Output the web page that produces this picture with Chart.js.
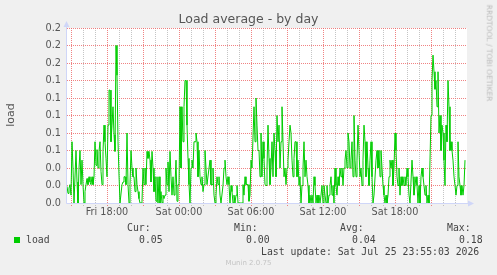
<!DOCTYPE html>
<html lang="en">
<head>
<meta charset="UTF-8" />
<title>Load average - by day</title>
<script src="https://cdn.jsdelivr.net/npm/chart.js"></script>
<style>
  body { margin: 0; background: #f0f0f0; }
  #wrap { position: relative; width: 497px; height: 275px; overflow: hidden; font-family: 'DejaVu Sans', sans-serif; color: #555; }
  #wrap div { position: absolute; white-space: pre; line-height: 1; }
  canvas { position: absolute; left: 0; top: 0; }
  .mono { font-family: 'DejaVu Sans Mono', monospace; font-size: 9.8px; color: #444; }
</style>
</head>
<body>
<div id="wrap">
  <canvas id="chart" width="497" height="275"></canvas>
  <div style="left:0;top:13.4px;width:497px;text-align:center;font-size:12.5px">Load average - by day</div>
  <div style="left:10px;top:115px;font-size:11px;transform:translate(-50%,-50%) rotate(-90deg)">load</div>
  <div style="left:489px;top:53px;font-size:7.5px;color:#bbb;transform:translate(-50%,-50%) rotate(90deg)">RRDTOOL / TOBI OETIKER</div>
  <div style="left:0;top:260.4px;width:497px;text-align:center;font-size:7px;color:#c4c4c4">Munin 2.0.75</div>
  <div style="left:14px;top:237px;width:6px;height:6px;background:#00cc00"></div>
</div>

<script>
  // time axis: hours counted from Fri 00:00, one sample every 5 minutes
  const startHour = 14 + 40 / 60;   // Fri 14:40
  const endHour = 48;               // Sat 24:00
  const stepHours = 5 / 60;

  const xTickHours = [18, 24, 30, 36, 42];
  const xTickLabels = ['Fri 18:00', 'Sat 00:00', 'Sat 06:00', 'Sat 12:00', 'Sat 18:00'];

  const loadValues = [
    0.019,0.011,0.017,0.021,0.009,0.070,0.040,0,0,0.060,
    0.024,0,0.040,0.060,0.021,0.049,0.021,0,0.013,0.021,
    0.028,0.021,0.030,0.024,0.021,0.030,0.021,0.030,0.070,0.043,
    0.061,0.040,0.059,0.070,0.036,0.021,0.059,0.089,0.070,0.051,
    0.030,0.089,0.129,0.129,0.070,0.089,0.110,0.078,0.059,0.180,
    0.146,0.070,0.032,0,0,
    0.021,0.024,0.030,0.030,0.021,0.080,0.021,0,0.021,0.060,
    0.040,0.030,0.030,0.013,0.040,0.021,0.013,0.005,0,0,
    0.002,0.040,0.021,0.040,0.021,0.059,0.051,0.059,0.049,0.024,
    0.059,0.040,0.013,0.030,0.002,0.030,0,0.030,0,0.013,
    0,0.009,0.005,0.009,0.040,0.021,0.047,0.013,0.059,0.030,
    0.009,0.030,0.009,0.021,0.049,0.002,0.021,0.021,
    0.110,0.040,0.110,0.070,0.110,0.140,0.140,0.089,0.051,0.021,
    0,0.040,0.049,0.040,0.070,0.070,0.080,0.070,0.030,0.060,
    0.030,0.021,0.030,0.013,0.021,0.060,0.040,0.021,0.021,0.040,
    0.049,0.021,0.021,0.040,0.009,0,0.009,0.030,0.021,0.030,
    0.009,0,0,0.020,0.040,0.049,0.030,0.021,0.030,0.021,
    0,0.020,0.013,0,0.009,0,0.009,0.020,
    0,0,0,0,0,0.021,0.009,0.030,0.021,0.021,
    0.021,0.002,0.009,0.049,0.040,0.040,0.110,0.070,0.120,0.089,
    0.060,0.060,0.030,0.080,0.030,0.070,0.051,0.021,0.020,0.040,
    0.089,0.051,0.021,0.040,0.070,0.030,0.080,0.060,0.030,0.100,
    0.070,0.089,0.040,0.070,0.110,0.070,0.030,0.040,0.021,0.040,
    0.049,0.070,0.089,0.080,0.049,0.030,0.051,0.070,
    0.070,0.030,0.049,0.020,0.030,0,0.020,0.040,0.070,0.030,
    0.049,0.030,0.020,0,0.009,0,0.009,0,0.030,0.020,
    0,0.009,0,0.009,0,0.009,0.020,0,0.020,0.009,
    0,0.020,0,0.009,0.020,0.030,0.009,0.020,0,0.040,
    0.020,0.009,0.030,0.020,0.040,0.030,0.040,0.020,0.040,0.049,
    0.060,0.040,0.080,0.070,0.040,0.049,0.070,0.030,
    0.100,0.049,0.030,0.049,0.089,0.060,0.030,0.040,0.020,0.049,
    0.089,0.070,0.030,0.070,0.040,0.020,0.049,0.070,0.030,0,
    0.009,0.009,0.049,0.060,0.040,0.060,0.030,0.060,0.040,0.020,
    0.009,0,0.009,0,0.009,0.030,0.049,0.040,0.049,0.020,
    0.040,0.080,0.060,0.030,0.020,0.040,0.009,0.030,0.020,0.030,
    0.020,0.030,0.020,0.040,0.030,0.009,0,0,
    0.049,0.030,0.009,0.020,0.030,0.020,0,0.020,0,0.030,
    0.040,0.030,0.020,0.009,0.020,0,0.009,0,0.049,0.100,
    0.140,0.169,0.150,0.130,0.140,0.110,0.150,0.080,0.100,0.060,
    0.089,0.080,0.049,0.020,0.089,0.070,0.140,0.110,0.060,0.070,
    0.060,0.049,0.030,0.020,0.009,0.020,0.070,0.030,0.020,0.009,
    0.020,0.009,0.020,0.049
  ];

  const statLabels = ['Cur:', 'Min:', 'Avg:', 'Max:'];
  const statValues = ['0.05', '0.00', '0.04', '0.18'];
  const lastUpdate = 'Last update: Sat Jul 25 23:55:03 2026';

  const GRID = 'rgba(150,150,150,0.55)';
  const MGRID = 'rgba(236,100,100,0.8)';
  const AXIS = '#cfd6f8';

  // legend text (monospace, like rrdtool)
  const wrap = document.getElementById('wrap');
  function addText(txt, left, top) {
    const d = document.createElement('div');
    d.className = 'mono';
    d.textContent = txt;
    d.style.left = left + 'px';
    d.style.top = top + 'px';
    wrap.appendChild(d);
  }
  const statX = [127, 234, 340, 447];
  statLabels.forEach((s, i) => {
    addText(s, statX[i], 222.7);
    addText(statValues[i], statX[i] + 12, 234.7);
  });
  addText('load', 26, 234.7);
  addText(lastUpdate, 261, 246.7);

  const muninPlugin = {
    id: 'munin',
    beforeDraw(chart) {
      const { ctx, chartArea: a } = chart;
      ctx.save();
      ctx.fillStyle = '#fff';
      ctx.fillRect(a.left, a.top, a.right - a.left, a.bottom - a.top);
      ctx.restore();
    },
    afterDatasetsDraw(chart) {
      const { ctx, chartArea: a } = chart;
      ctx.save();
      ctx.strokeStyle = AXIS;
      ctx.fillStyle = AXIS;
      ctx.lineWidth = 1;
      ctx.beginPath();
      ctx.moveTo(a.left - 0.5, a.bottom + 0.5);
      ctx.lineTo(a.right + 2, a.bottom + 0.5);
      ctx.moveTo(a.left - 0.5, a.bottom + 0.5);
      ctx.lineTo(a.left - 0.5, a.top - 2);
      ctx.stroke();
      ctx.beginPath();
      ctx.moveTo(a.right + 7, a.bottom + 0.5);
      ctx.lineTo(a.right + 1, a.bottom - 2.5);
      ctx.lineTo(a.right + 1, a.bottom + 3.5);
      ctx.fill();
      ctx.beginPath();
      ctx.moveTo(a.left - 0.5, a.top - 7);
      ctx.lineTo(a.left - 3.5, a.top - 1);
      ctx.lineTo(a.left + 2.5, a.top - 1);
      ctx.fill();
      ctx.restore();
    }
  };

  Chart.defaults.font.family = "'DejaVu Sans', sans-serif";
  Chart.defaults.color = '#555';

  new Chart(document.getElementById('chart'), {
    type: 'line',
    data: {
      datasets: [{
        label: 'load',
        data: loadValues.map((v, i) => ({ x: startHour + i * stepHours, y: v })),
        borderColor: '#00cc00',
        borderWidth: 1,
        pointRadius: 0,
        tension: 0,
        fill: false
      }]
    },
    options: {
      responsive: false,
      animation: false,
      devicePixelRatio: 1,
      layout: { padding: { top: 28, right: 30, bottom: 0, left: 0 } },
      plugins: { legend: { display: false }, tooltip: { enabled: false } },
      scales: {
        x: {
          type: 'linear',
          min: startHour,
          max: endHour,
          afterFit: s => { s.height = 72; },
          afterBuildTicks: s => {
            const t = [];
            for (let h = 15; h < endHour; h++) t.push({ value: h });
            s.ticks = t;
          },
          border: { display: false, dash: [1, 1] },
          grid: {
            color: c => (c.tick && c.tick.value % 3 === 0) ? MGRID : GRID,
            tickLength: 3,
            tickBorderDash: [1, 1]
          },
          ticks: {
            autoSkip: false,
            maxRotation: 0,
            padding: 1,
            font: { size: 9.7 },
            callback: v => {
              const k = xTickHours.indexOf(v);
              return k >= 0 ? xTickLabels[k] : '';
            }
          }
        },
        y: {
          min: 0,
          max: 0.2,
          afterFit: s => { s.width = 67; },
          afterBuildTicks: s => {
            const t = [];
            for (let k = 0; k <= 20; k++) t.push({ value: k / 100 });
            s.ticks = t;
          },
          border: { display: false, dash: [1, 1] },
          grid: {
            color: c => (c.tick && Math.round(c.tick.value * 100) % 2 === 0) ? MGRID : GRID,
            drawTicks: false
          },
          ticks: {
            padding: 6,
            font: { size: 9.7 },
            callback: v => (Math.round(v * 100) % 2 === 0) ? v.toFixed(1) : ''
          }
        }
      }
    },
    plugins: [muninPlugin]
  });
</script>
</body>
</html>
